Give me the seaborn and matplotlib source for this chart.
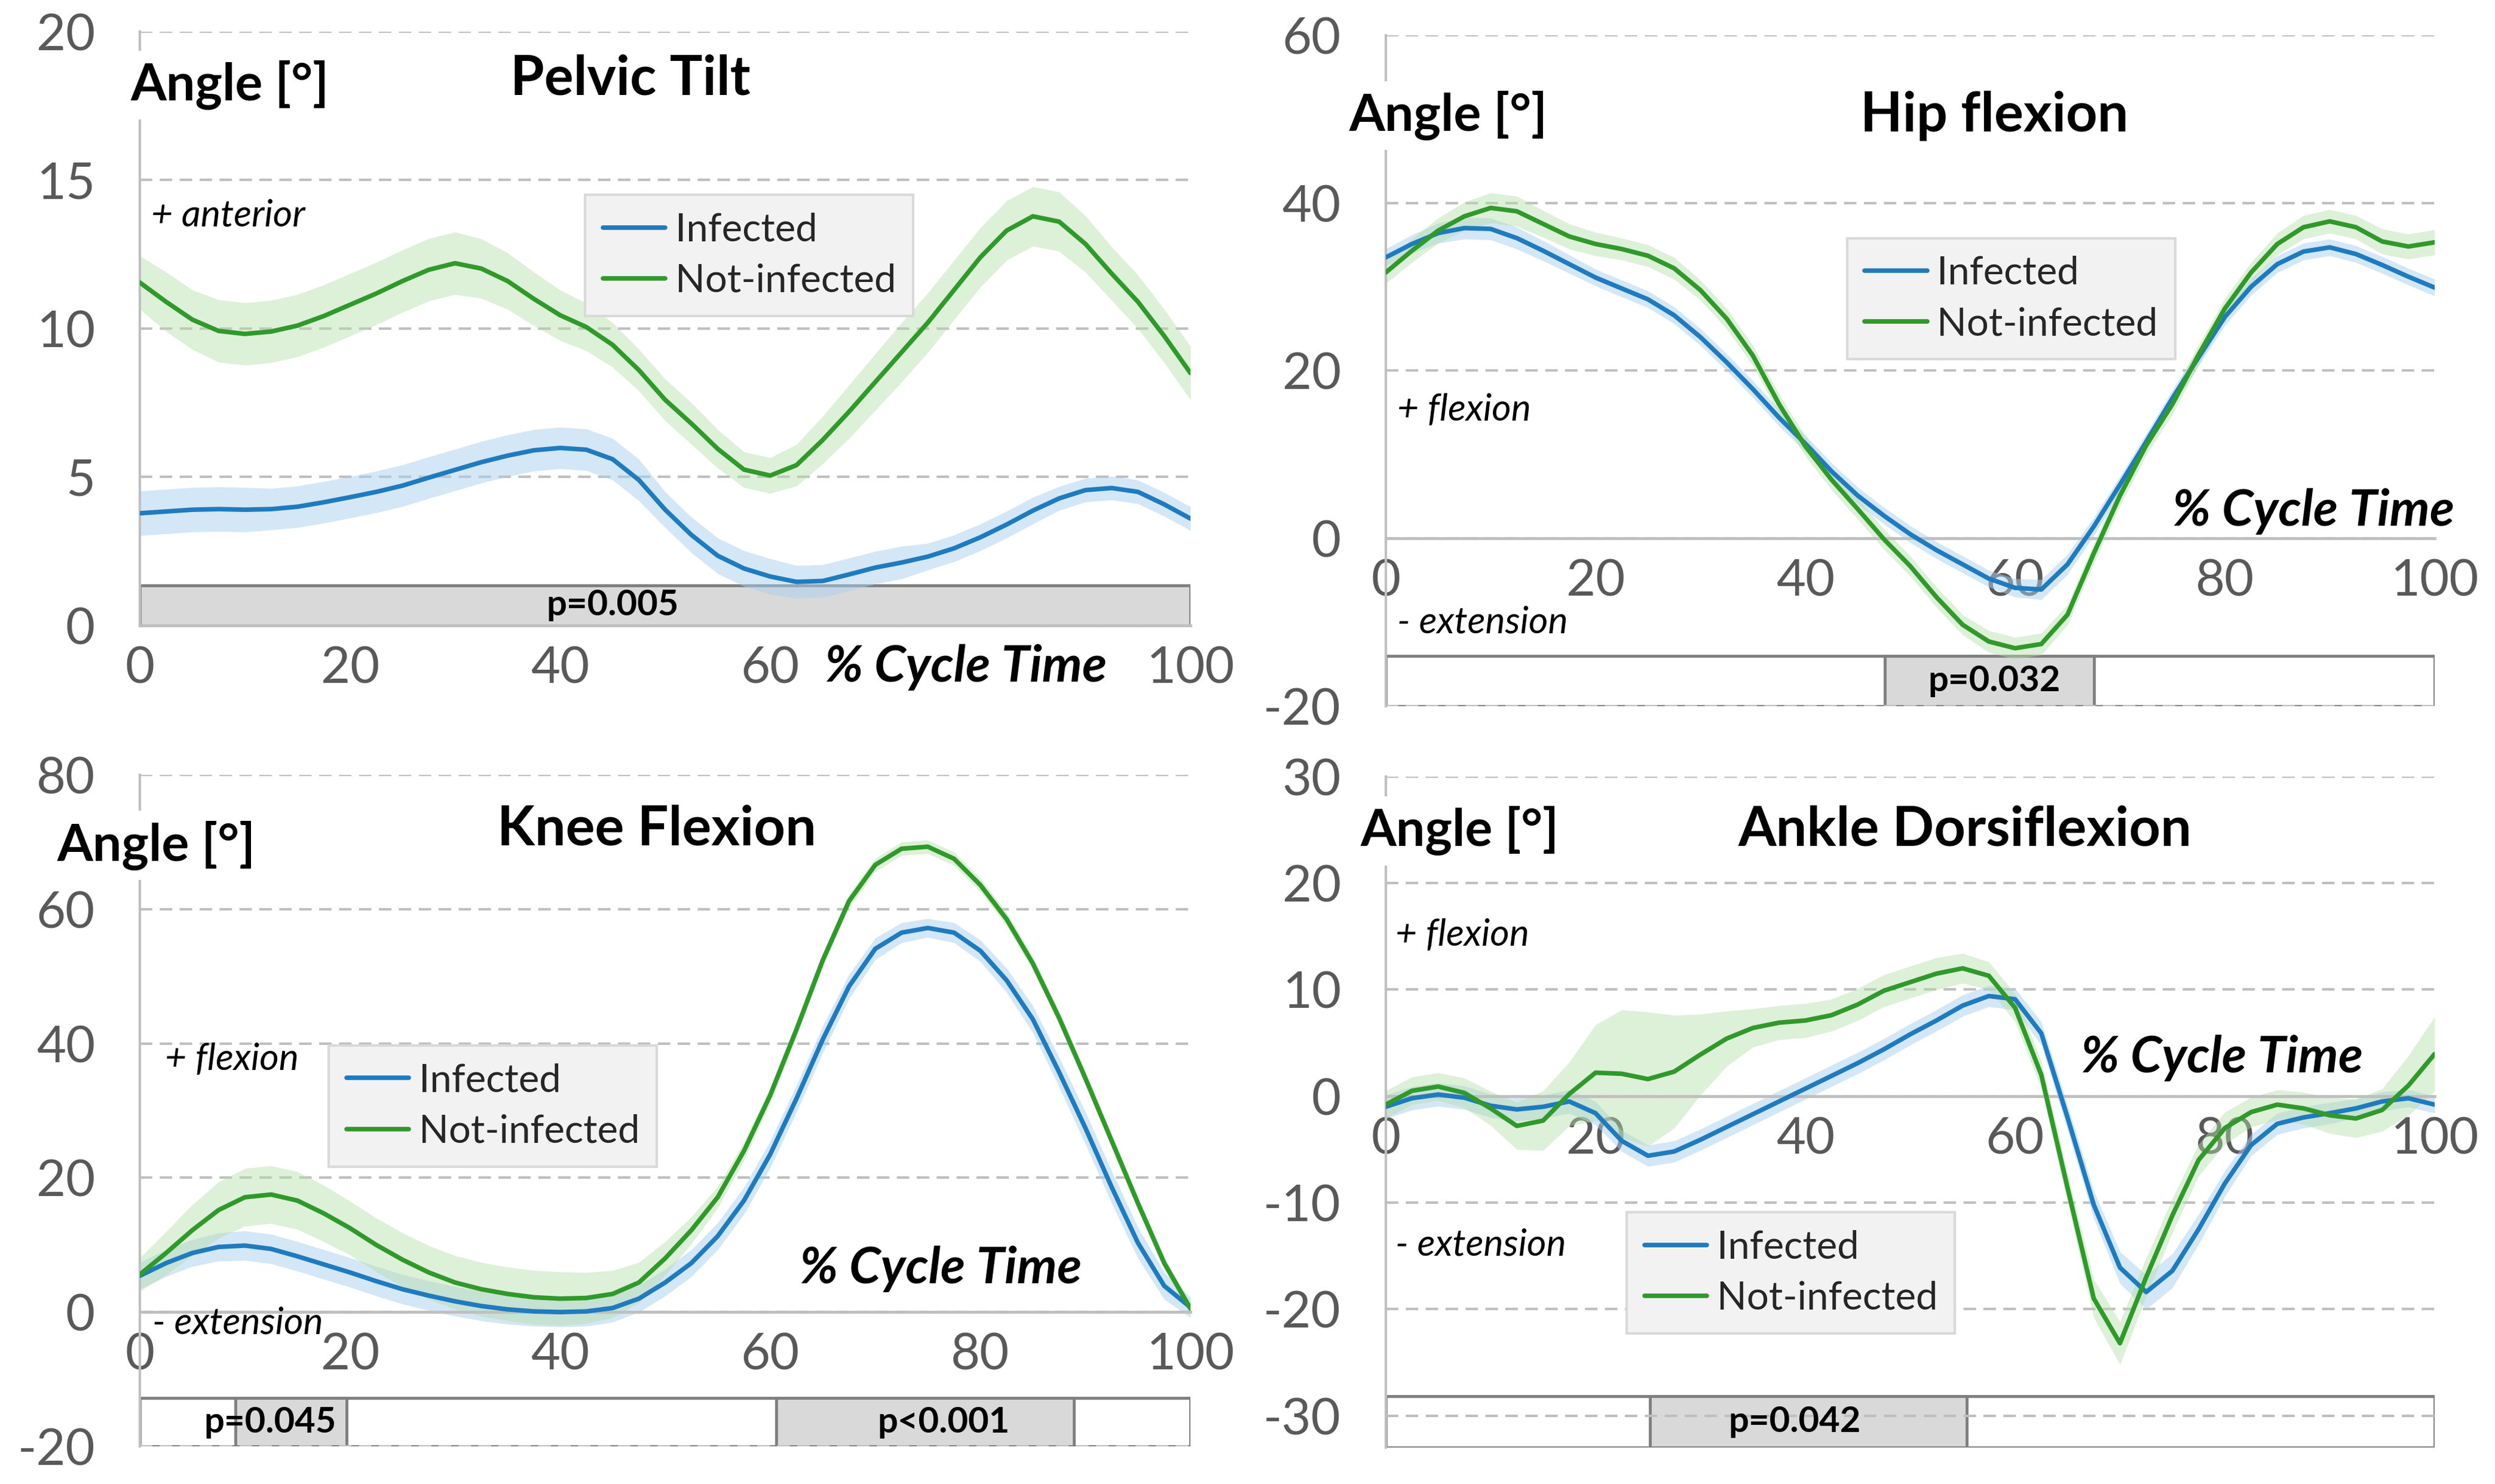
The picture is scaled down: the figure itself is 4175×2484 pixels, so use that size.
import numpy as np
import pandas as pd
import matplotlib.pyplot as plt
import seaborn as sns
from matplotlib.lines import Line2D
from matplotlib.ticker import FixedLocator

# gait cycle sampling (% of cycle)
cycle = np.arange(0, 101, 2.5)
groups = ["Infected", "Not-infected"]

# ---- Pelvic tilt ----
pelvic_inf = [3.78, 3.84, 3.9, 3.92, 3.9, 3.92, 4.0, 4.15, 4.32, 4.5,
              4.71, 4.98, 5.24, 5.5, 5.72, 5.9, 5.98, 5.92, 5.6, 4.9,
              3.9, 3.05, 2.35, 1.92, 1.65, 1.47, 1.5, 1.72, 1.95, 2.12,
              2.32, 2.6, 2.97, 3.4, 3.87, 4.28, 4.56, 4.63, 4.5, 4.08, 3.6]
pelvic_not = [11.55, 10.9, 10.3, 9.92, 9.82, 9.9, 10.1, 10.42, 10.8, 11.18,
              11.6, 11.98, 12.2, 12.02, 11.6, 11.0, 10.45, 10.05, 9.45, 8.6,
              7.6, 6.8, 5.95, 5.25, 5.05, 5.4, 6.25, 7.2, 8.2, 9.2,
              10.2, 11.3, 12.4, 13.3, 13.78, 13.6, 12.85, 11.85, 10.9, 9.75, 8.5]
pelvic_inf_sd = [0.75, 0.75, 0.75, 0.75, 0.75, 0.7, 0.7, 0.7, 0.7, 0.7,
                 0.7, 0.7, 0.7, 0.7, 0.7, 0.7, 0.7, 0.7, 0.7, 0.7,
                 0.6, 0.6, 0.6, 0.6, 0.6, 0.55, 0.55, 0.55, 0.55, 0.55,
                 0.45, 0.45, 0.45, 0.45, 0.45, 0.4, 0.4, 0.4, 0.4, 0.4, 0.4]
pelvic_not_sd = [0.9, 1.0, 1.0, 1.05, 1.05, 1.05, 1.05, 1.05, 1.05, 1.05,
                 1.05, 1.05, 1.05, 1.0, 0.95, 0.9, 0.85, 0.8, 0.75, 0.7,
                 0.7, 0.7, 0.65, 0.6, 0.6, 0.7, 0.8, 0.9, 0.95, 1.0,
                 1.0, 1.0, 1.0, 1.0, 1.0, 1.0, 0.95, 0.9, 0.9, 0.9, 0.9]

# ---- Hip flexion ----
hip_inf = [33.5, 35.1, 36.4, 37.0, 36.9, 35.8, 34.3, 32.7, 31.1, 29.8,
           28.5, 26.6, 24.0, 21.0, 17.8, 14.4, 11.3, 8.0, 5.1, 2.7,
           0.5, -1.4, -3.1, -4.8, -5.9, -6.1, -3.1, 1.4, 6.4, 11.5,
           16.7, 21.6, 26.4, 30.0, 32.7, 34.2, 34.7, 33.9, 32.6, 31.2, 29.9]
hip_not = [31.7, 34.3, 36.7, 38.4, 39.4, 39.0, 37.5, 36.0, 35.1, 34.5,
           33.7, 32.2, 29.6, 26.2, 21.8, 16.0, 11.0, 7.0, 3.5, -0.1,
           -3.3, -7.0, -10.3, -12.3, -13.1, -12.6, -9.1, -1.8, 5.1, 11.1,
           16.0, 21.9, 27.4, 31.7, 35.1, 37.1, 37.8, 37.1, 35.4, 34.8, 35.3]
hip_inf_sd = [1.0, 1.1, 1.2, 1.3, 1.3, 1.3, 1.2, 1.1, 1.0, 1.0,
              1.0, 1.0, 1.0, 1.0, 1.0, 1.0, 1.0, 1.0, 1.0, 1.0,
              1.0, 1.0, 1.0, 1.0, 1.1, 1.2, 1.2, 1.1, 1.0, 1.0,
              1.0, 1.0, 1.0, 1.0, 1.0, 1.0, 1.0, 1.0, 1.0, 1.0, 1.0]
hip_not_sd = [1.3, 1.4, 1.5, 1.7, 1.8, 1.8, 1.6, 1.5, 1.4, 1.3,
              1.3, 1.3, 1.2, 1.2, 1.2, 1.2, 1.2, 1.2, 1.2, 1.2,
              1.2, 1.2, 1.2, 1.3, 1.3, 1.3, 1.2, 1.2, 1.2, 1.2,
              1.2, 1.2, 1.2, 1.2, 1.3, 1.4, 1.4, 1.4, 1.5, 1.5, 1.5]

# ---- Knee flexion ----
knee_inf = [5.4, 7.3, 8.8, 9.7, 9.9, 9.4, 8.3, 7.1, 5.9, 4.6,
            3.4, 2.45, 1.6, 0.9, 0.4, 0.1, 0.0, 0.1, 0.6, 2.0,
            4.4, 7.3, 11.3, 16.6, 23.5, 31.8, 40.6, 48.5, 54.1, 56.5,
            57.2, 56.5, 53.8, 49.4, 43.6, 35.7, 27.4, 18.6, 10.3, 3.9, 0.7]
knee_not = [5.6, 8.8, 12.2, 15.2, 17.1, 17.5, 16.6, 14.7, 12.5, 10.0,
            7.8, 5.9, 4.4, 3.4, 2.7, 2.2, 2.0, 2.1, 2.7, 4.4,
            8.0, 12.2, 17.1, 24.0, 32.3, 42.1, 52.4, 61.2, 66.6, 69.0,
            69.3, 67.5, 63.6, 58.5, 51.9, 43.8, 34.8, 25.5, 16.2, 7.3, 0.5]
knee_inf_sd = [2.0, 2.0, 2.0, 2.1, 2.2, 2.2, 2.2, 2.2, 2.2, 2.2,
               2.2, 2.2, 2.2, 2.2, 2.2, 2.2, 2.2, 2.2, 2.1, 2.0,
               2.0, 2.0, 2.0, 2.0, 2.0, 2.0, 2.0, 1.8, 1.6, 1.5,
               1.4, 1.5, 1.6, 1.8, 2.0, 2.2, 2.4, 2.4, 2.3, 2.0, 1.5]
knee_not_sd = [2.5, 3.2, 3.8, 4.2, 4.3, 4.3, 4.3, 4.2, 4.0, 4.0,
               4.0, 4.0, 4.0, 4.0, 4.0, 4.0, 4.0, 3.8, 3.5, 3.0,
               2.5, 2.0, 1.6, 1.4, 1.2, 1.1, 1.0, 1.0, 1.0, 1.0,
               1.0, 1.0, 1.0, 1.0, 1.0, 1.0, 1.0, 1.0, 1.0, 0.9, 0.8]

# ---- Ankle dorsiflexion ----
ankle_inf = [-1.0, -0.2, 0.15, -0.15, -0.9, -1.25, -1.0, -0.5, -1.6, -4.2,
             -5.6, -5.2, -4.1, -2.9, -1.7, -0.5, 0.7, 1.9, 3.1, 4.4,
             5.8, 7.1, 8.5, 9.4, 9.1, 5.9, -2.0, -10.2, -16.1, -18.4,
             -16.4, -12.5, -8.2, -4.6, -2.6, -2.0, -1.6, -1.15, -0.5, -0.2, -0.8]
ankle_not = [-0.8, 0.5, 0.9, 0.3, -1.15, -2.8, -2.3, 0.2, 2.2, 2.1,
             1.6, 2.3, 3.9, 5.4, 6.4, 6.9, 7.1, 7.6, 8.6, 9.9,
             10.7, 11.5, 12.0, 11.3, 8.3, 2.0, -8.6, -19.0, -23.2, -17.0,
             -11.2, -6.0, -3.0, -1.5, -0.8, -1.15, -1.8, -2.1, -1.3, 1.0, 3.95]
ankle_inf_sd = [1.1, 1.1, 1.1, 1.1, 1.1, 1.1, 1.1, 1.1, 1.1, 1.0,
                1.0, 1.0, 1.0, 1.0, 1.0, 1.0, 1.0, 1.0, 1.0, 1.0,
                1.0, 1.0, 1.0, 1.0, 1.0, 1.1, 1.2, 1.3, 1.5, 1.6,
                1.6, 1.4, 1.2, 1.0, 1.0, 1.0, 1.0, 0.9, 0.9, 0.8, 0.8]
ankle_not_sd = [1.3, 1.3, 1.3, 1.4, 1.6, 2.2, 2.8, 3.0, 4.5, 6.0,
                6.3, 5.3, 3.8, 2.6, 1.8, 1.6, 1.6, 1.5, 1.5, 1.5,
                1.5, 1.5, 1.4, 1.3, 1.3, 1.3, 1.4, 1.8, 2.0, 1.8,
                1.6, 1.5, 1.5, 1.4, 1.4, 1.5, 1.7, 1.8, 2.0, 2.8, 3.5]

# significant phases (start, end of % cycle) and p-values
pelvic_sig = [(0, 100)]
pelvic_p = ["p=0.005"]
hip_sig = [(47.6, 67.5)]
hip_p = ["p=0.032"]
knee_sig = [(9.1, 19.7), (60.6, 88.9)]
knee_p = ["p=0.045", "p<0.001"]
ankle_sig = [(25.2, 55.4)]
ankle_p = ["p=0.042"]

x_ticks = [0, 20, 40, 60, 80, 100]
x_labels_full = ["0", "20", "40", "60", "80", "100"]
x_labels_pelvic = ["0", "20", "40", "60", "", "100"]  # 80 hidden under the axis title

BLUE = "#1f7bbf"
GREEN = "#2f9a2a"
BLUE_BAND = "#a9d0ef"
GREEN_BAND = "#b5dea9"
GRID = "#bfbfbf"
TICKTXT = "#595959"

sns.set_style("white")
plt.rcParams["font.family"] = ["Lato", "DejaVu Sans"]
plt.rcParams["axes.unicode_minus"] = False

fig = plt.figure(figsize=(41.75, 24.84), dpi=100)

panels = [
    dict(title="Pelvic Tilt", inf=pelvic_inf, nf=pelvic_not, inf_sd=pelvic_inf_sd, nf_sd=pelvic_not_sd,
         sig=pelvic_sig, p=pelvic_p, p_x=[45], strip=(0, 1.35), xlabels=x_labels_pelvic,
         rect=[0.05605, 0.5785, 0.4211, 0.4002], ylim=(0, 20), yticks=[0, 5, 10, 15, 20],
         minor=[33.3, 66.7], angle=(-0.9, 18.2), title_xy=(46.7, 18.4),
         notes=[("+ anterior", 1.1, 13.8)], leg=(42.4, 14.5), cyc=(65.2, -1.4)),
    dict(title="Hip flexion", inf=hip_inf, nf=hip_not, inf_sd=hip_inf_sd, nf_sd=hip_not_sd,
         sig=hip_sig, p=hip_p, p_x=[58], strip=(-20, -14.0), xlabels=x_labels_full,
         rect=[0.5554, 0.5242, 0.4204, 0.4521], ylim=(-20, 60), yticks=[-20, 0, 20, 40, 60],
         minor=[25, 50, 75], angle=(-3.5, 50.4), title_xy=(58, 50.4),
         notes=[("+ flexion", 1.1, 15.3), ("- extension", 1.1, -10.0)], leg=(44, 35.8),
         cyc=(75.0, 3.2)),
    dict(title="Knee Flexion", inf=knee_inf, nf=knee_not, inf_sd=knee_inf_sd, nf_sd=knee_not_sd,
         sig=knee_sig, p=knee_p, p_x=[12.4, 76.5], strip=(-20, -12.8), xlabels=x_labels_full,
         rect=[0.05605, 0.02536, 0.4211, 0.4525], ylim=(-20, 80), yticks=[-20, 0, 20, 40, 60, 80],
         minor=[33.3, 66.7], angle=(-7.9, 69.5), title_xy=(49.2, 71.9),
         notes=[("+ flexion", 2.4, 37.6), ("- extension", 1.2, -1.7)], leg=(18, 39.7),
         cyc=(62.8, 6.4)),
    dict(title="Ankle Dorsiflexion", inf=ankle_inf, nf=ankle_not, inf_sd=ankle_inf_sd, nf_sd=ankle_not_sd,
         sig=ankle_sig, p=ankle_p, p_x=[39], strip=(-33, -28.2), xlabels=x_labels_full,
         rect=[0.5554, 0.02456, 0.4204, 0.4521], ylim=(-33, 30), yticks=[-30, -20, -10, 0, 10, 20, 30],
         minor=[25, 50, 75], angle=(-2.4, 24.9), title_xy=(55.2, 25.0),
         notes=[("+ flexion", 0.9, 15.1), ("- extension", 0.9, -14.0)], leg=(23, -10.9),
         cyc=(66.3, 3.6)),
]

for pn in panels:
    ax = fig.add_axes(pn["rect"])
    ax.set_axisbelow(True)

    # significance strip
    y0, y1 = pn["strip"]
    ax.barh(y=(y0 + y1) / 2, width=100, left=0, height=y1 - y0, color="white",
            edgecolor="#7f7f7f", linewidth=3.5, zorder=0.3)
    for (a, b) in pn["sig"]:
        ax.barh(y=(y0 + y1) / 2, width=b - a, left=a, height=y1 - y0, color="#d9d9d9",
                edgecolor="#7f7f7f", linewidth=3.5, zorder=0.35)
    for lab, px in zip(pn["p"], pn["p_x"]):
        ax.text(px, (y0 + y1) / 2, lab, ha="center", va="center", fontsize=43,
                fontweight="bold", color="black", zorder=6)

    # SD bands
    ax.fill_between(cycle, np.array(pn["inf"]) - np.array(pn["inf_sd"]),
                    np.array(pn["inf"]) + np.array(pn["inf_sd"]),
                    color=BLUE_BAND, alpha=0.5, linewidth=0, zorder=1)
    ax.fill_between(cycle, np.array(pn["nf"]) - np.array(pn["nf_sd"]),
                    np.array(pn["nf"]) + np.array(pn["nf_sd"]),
                    color=GREEN_BAND, alpha=0.45, linewidth=0, zorder=1.1)

    df = pd.DataFrame({
        "cycle": np.concatenate([cycle, cycle]),
        "angle": list(pn["inf"]) + list(pn["nf"]),
        "group": [groups[0]] * len(cycle) + [groups[1]] * len(cycle),
    })
    sns.lineplot(data=df, x="cycle", y="angle", hue="group", hue_order=groups,
                 palette=[BLUE, GREEN], linewidth=5.5, errorbar=None, legend=False,
                 ax=ax, zorder=3)
    for ln in ax.get_lines():
        ln.set_solid_joinstyle("round")

    ax.set_xlim(0, 100)
    ax.set_ylim(*pn["ylim"])
    ax.set_xlabel("")
    ax.set_ylabel("")
    ax.set_xticks(x_ticks)
    ax.set_xticklabels(pn["xlabels"])
    ax.xaxis.set_minor_locator(FixedLocator(pn["minor"]))
    ax.set_yticks(pn["yticks"])
    ax.tick_params(axis="x", which="major", length=0, pad=24, labelsize=61, labelcolor=TICKTXT)
    ax.tick_params(axis="x", which="minor", length=18, width=3, color=GRID, direction="out")
    ax.tick_params(axis="y", which="major", length=18, width=3, color=GRID, pad=36,
                   labelsize=61, labelcolor=TICKTXT, direction="out")
    ax.yaxis.grid(True, linestyle=(0, (5, 3)), color=GRID, linewidth=3)
    ax.xaxis.grid(False)

    for s in ["top", "right"]:
        ax.spines[s].set_visible(False)
    ax.spines["left"].set_color(GRID)
    ax.spines["left"].set_linewidth(3)
    ax.spines["bottom"].set_color(GRID)
    ax.spines["bottom"].set_linewidth(3.5)
    ax.spines["bottom"].set_position(("data", 0))

    ax.text(pn["angle"][0], pn["angle"][1], "Angle [°]", ha="left", va="center",
            fontsize=62, fontweight="bold", color="black", zorder=7, clip_on=False,
            bbox=dict(facecolor="white", edgecolor="none", pad=12))
    ax.text(pn["title_xy"][0], pn["title_xy"][1], pn["title"], ha="center", va="center",
            fontsize=66, fontweight="bold", color="black", zorder=7, clip_on=False)
    for txt, tx, ty in pn["notes"]:
        ax.text(tx, ty, txt, ha="left", va="center", fontsize=45, fontstyle="italic",
                color="black", zorder=7, clip_on=False)
    ax.text(pn["cyc"][0], pn["cyc"][1], "% Cycle Time", ha="left", va="center",
            fontsize=61, fontweight="bold", fontstyle="italic", color="black",
            zorder=7, clip_on=False)

    handles = [Line2D([0], [0], color=BLUE, lw=5.5), Line2D([0], [0], color=GREEN, lw=5.5)]
    leg = ax.legend(handles, groups, loc="upper left", bbox_to_anchor=pn["leg"],
                    bbox_transform=ax.transData, frameon=True, fancybox=False,
                    facecolor="#f2f2f2", edgecolor="#d9d9d9", framealpha=1,
                    fontsize=47, handlelength=1.6, handletextpad=0.25,
                    borderpad=0.45, labelspacing=0.4, borderaxespad=0)
    leg.get_frame().set_linewidth(3)
    leg.set_zorder(8)

fig.savefig("out.png", dpi=100)
